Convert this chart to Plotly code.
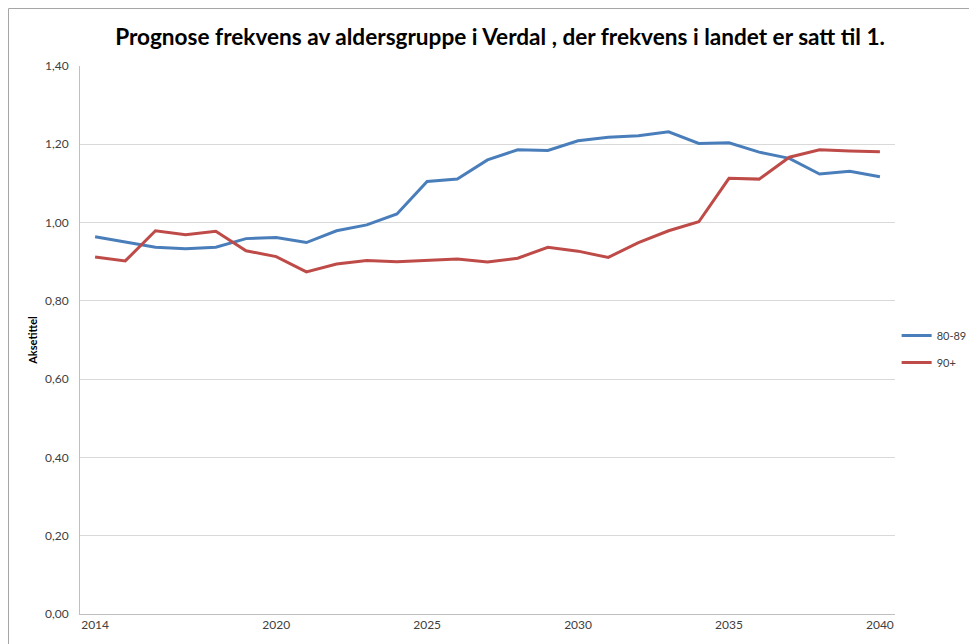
import plotly.graph_objects as go

years = list(range(2014, 2041))
series_80_89 = [0.964, 0.950, 0.937, 0.933, 0.937, 0.959, 0.962, 0.949, 0.979, 0.994,
                1.022, 1.105, 1.111, 1.160, 1.186, 1.184, 1.209, 1.218, 1.222, 1.232,
                1.202, 1.204, 1.180, 1.164, 1.124, 1.131, 1.117]
series_90 = [0.912, 0.902, 0.979, 0.969, 0.978, 0.928, 0.913, 0.874, 0.894, 0.903,
             0.900, 0.903, 0.907, 0.899, 0.909, 0.937, 0.927, 0.911, 0.949, 0.979,
             1.002, 1.113, 1.111, 1.167, 1.186, 1.183, 1.181]
tick_years = [2014, 2020, 2025, 2030, 2035, 2040]
y_ticks = [0, 0.2, 0.4, 0.6, 0.8, 1.0, 1.2, 1.4]

font = "Lato, 'Open Sans', sans-serif"

# page has an 8px body margin; figure coordinates are page coordinates minus 8
W, H = 969, 636
L, T, R, B = 72, 58, 82, 30
PW, PH = W - L - R, H - T - B

fig = go.Figure()
fig.add_trace(go.Scatter(x=years, y=series_80_89, mode="lines", name="80-89",
                         legendgroup="a",
                         line=dict(color="#4a7ebb", width=3)))
fig.add_trace(go.Scatter(x=years, y=series_90, mode="lines", name="90+",
                         legendgroup="b",
                         line=dict(color="#be4b48", width=3)))

fig.update_layout(
    width=W, height=H,
    margin=dict(l=L, r=R, t=T, b=B, autoexpand=False),
    paper_bgcolor="white", plot_bgcolor="white",
    separators=",.",
    font=dict(family=font, size=12, color="#404040"),
    title=dict(text="<b>Prognose frekvens av aldersgruppe i Verdal , der frekvens i landet er satt til 1.</b>",
               x=492 / W, xanchor="center", y=1 - 29 / H, yanchor="middle",
               font=dict(family=font, size=22.6, color="black")),
    xaxis=dict(range=[2013.5, 2040.5], tickmode="array", tickvals=tick_years,
               ticktext=[str(t) for t in tick_years], showgrid=False,
               showline=True, linecolor="#bfbfbf", linewidth=1, ticks="",
               tickfont=dict(size=12, color="#404040"), zeroline=False),
    yaxis=dict(range=[0, 1.4], tickvals=y_ticks, tickformat=".2f",
               showgrid=True, gridcolor="#d9d9d9", gridwidth=1,
               showline=True, linecolor="#bfbfbf", linewidth=1, zeroline=False,
               ticks="", ticklabelstandoff=8,
               tickfont=dict(size=12, color="#404040"),
               title=dict(text="<b>Aksetittel</b>", standoff=5,
                          font=dict(size=11, color="black"))),
    legend=dict(x=1.002, y=(606 - 341) / PH, xanchor="left", yanchor="middle",
                font=dict(size=11, color="#404040"), tracegroupgap=8,
                itemwidth=30, bgcolor="rgba(0,0,0,0)"),
    shapes=[dict(type="rect", xref="paper", yref="paper",
                 x0=(0.5 - L) / PW, x1=1.3, y0=-0.2, y1=(H - B - 0.5) / PH,
                 line=dict(color="#a6a6a6", width=1), fillcolor="rgba(0,0,0,0)",
                 layer="below")],
)

fig.write_html("out.html")
